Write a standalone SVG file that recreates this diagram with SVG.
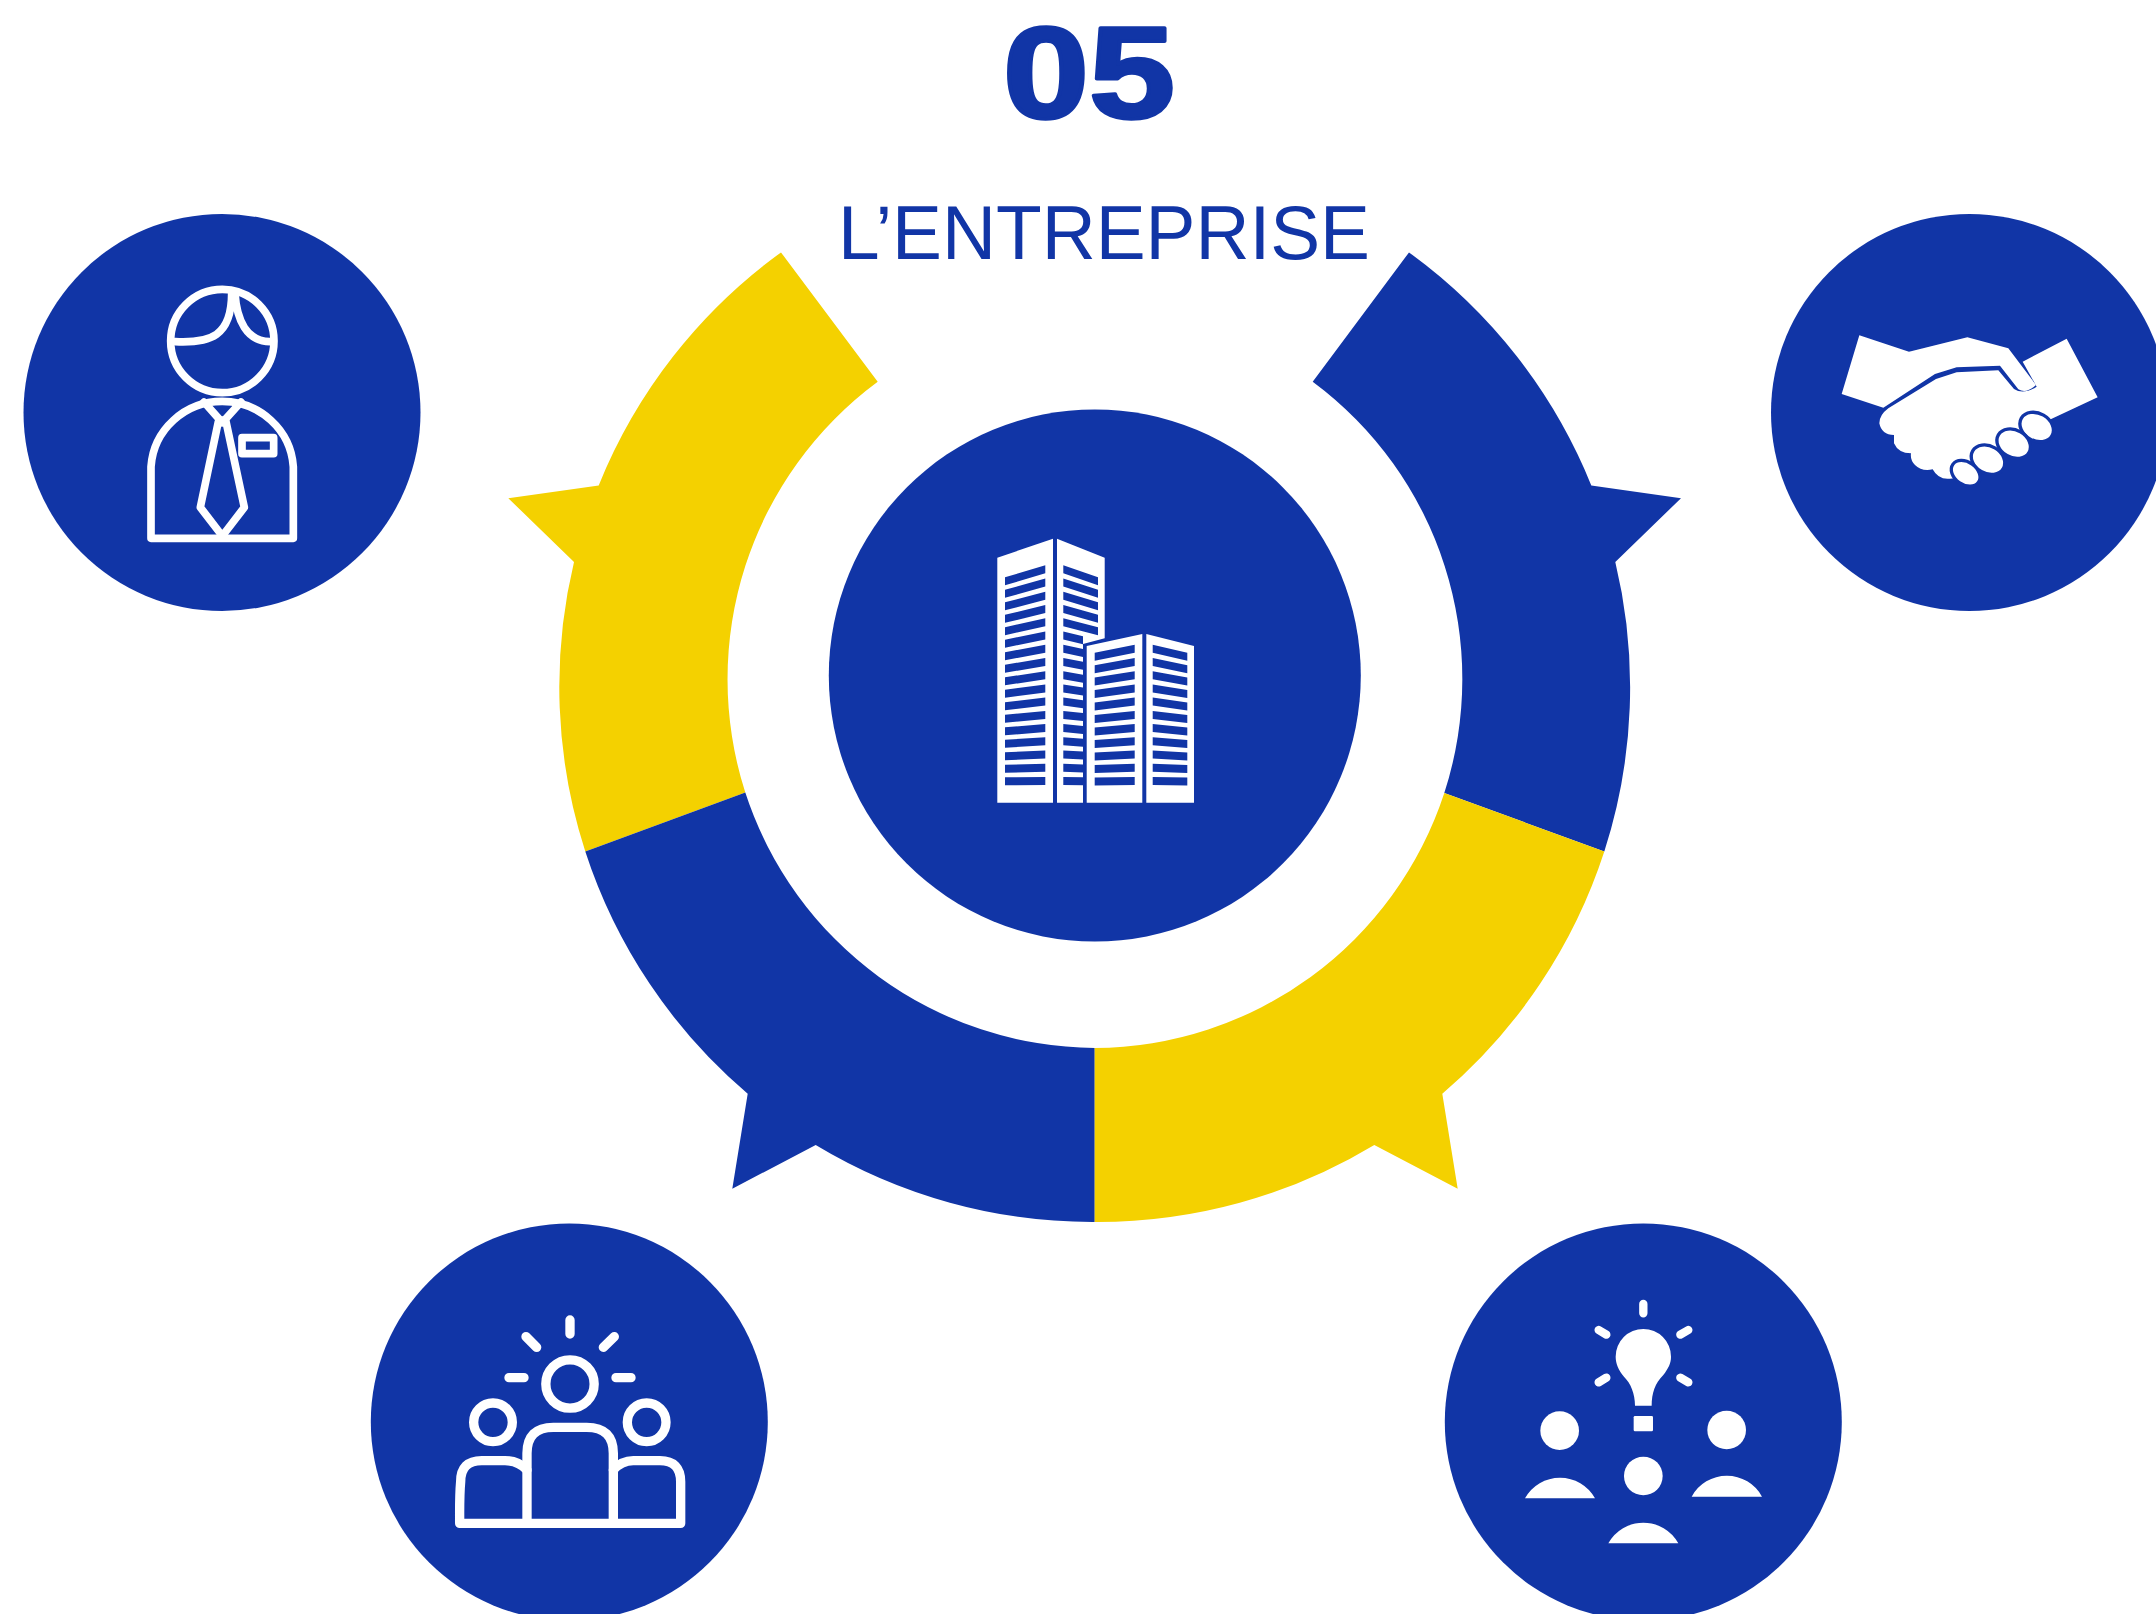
<svg xmlns="http://www.w3.org/2000/svg" width="2156" height="1614" viewBox="0 0 2156 1614">
<style>
.blue{fill:#1135a6}
.yellow{fill:#f4d100}
.w{fill:#fff}
.ln{fill:none;stroke:#fff;stroke-linecap:round;stroke-linejoin:round}
.fg{fill:#fff;stroke:#1135a6;stroke-width:10}
.t{fill:#1135a6;font-family:"Liberation Sans",Arial,sans-serif}
</style>
<rect width="2156" height="1614" fill="#fff"/>
<g id="title">
<text class="t" x="1003" y="118" font-size="130.5" font-weight="700" stroke="#1135a6" stroke-width="3.5" stroke-linejoin="round" textLength="172" lengthAdjust="spacingAndGlyphs">05</text>
<text class="t" x="838" y="259" font-size="76" textLength="532" lengthAdjust="spacingAndGlyphs">L’ENTREPRISE</text>
</g>
<g id="connectors">
<path class="yellow" d="M781 252.4L877.7 381.7A370 370 0 0 0 745.3 792.6L585.3 851.5A535.5 535.5 0 0 1 574 562L508.3 498.2L598.7 485.4A535.5 535.5 0 0 1 781 252.4Z"/>
<path class="blue" d="M1409 252.4L1312.7 381.7A370 370 0 0 1 1444.3 793L1604.3 851.5A535.5 535.5 0 0 0 1615.3 562L1681 498.2L1591.3 485.4A535.5 535.5 0 0 0 1409 252.4Z"/>
<path class="blue" d="M745.3 792.6A370 370 0 0 0 1094.7 1048V1222A535.5 535.5 0 0 1 815.7 1145L732.3 1188.7L747.7 1093.7A535.5 535.5 0 0 1 585.3 851.5Z"/>
<path class="yellow" d="M1444.3 793A370 370 0 0 1 1094.7 1048V1222A535.5 535.5 0 0 0 1374.3 1145L1457.7 1188.7L1442.3 1093.7A535.5 535.5 0 0 0 1604.3 851.5Z"/>
</g>
<g id="node-center">
<circle class="blue" cx="1094.8" cy="675.5" r="266"/>
<path class="w" d="M997.3 557.7L1053 538.7V802.7H997.3Z"/>
<path class="w" d="M1057 538.7L1104.7 557.7V638.3L1083 644V802.7H1057Z"/>
<path class="w" d="M1086.7 646L1142.3 634V802.7H1086.7Z"/>
<path class="w" d="M1146.3 634L1194 646V802.7H1146.3Z"/>
<path class="blue" d="M1005 577.3L1045.3 565.3v8L1005 585.3zM1005 589.8L1045.3 578.5v8L1005 597.8zM1005 602.3L1045.3 591.8v8L1005 610.3zM1005 614.8L1045.3 605v8L1005 622.8zM1005 627.3L1045.3 618.2v8L1005 635.3zM1005 639.8L1045.3 631.5v8L1005 647.8zM1005 652.3L1045.3 644.7v8L1005 660.3zM1005 664.8L1045.3 657.9v8L1005 672.8zM1005 677.3L1045.3 671.2v8L1005 685.3zM1005 689.8L1045.3 684.4v8L1005 697.8zM1005 702.3L1045.3 697.6v8L1005 710.3zM1005 714.8L1045.3 710.9v8L1005 722.8zM1005 727.3L1045.3 724.1v8L1005 735.3zM1005 739.8L1045.3 737.3v8L1005 747.8zM1005 752.3L1045.3 750.5v8L1005 760.3zM1005 764.8L1045.3 763.8v8L1005 772.8zM1005 777.3L1045.3 777v8L1005 785.3z"/>
<path class="blue" d="M1063.3 565.3L1098 577.3v8L1063.3 573.3zM1063.3 578.5L1098 589.8v8L1063.3 586.5zM1063.3 591.8L1098 602.3v8L1063.3 599.8zM1063.3 605L1098 614.8v8L1063.3 613zM1063.3 618.2L1098 627.3v8L1063.3 626.2zM1063.3 631.5L1083 636.2v8L1063.3 639.5zM1063.3 644.7L1083 649v8L1063.3 652.7zM1063.3 657.9L1083 661.8v8L1063.3 665.9zM1063.3 671.2L1083 674.7v8L1063.3 679.2zM1063.3 684.4L1083 687.5v8L1063.3 692.4zM1063.3 697.6L1083 700.3v8L1063.3 705.6zM1063.3 710.9L1083 713.1v8L1063.3 718.9zM1063.3 724.1L1083 725.9v8L1063.3 732.1zM1063.3 737.3L1083 738.7v8L1063.3 745.3zM1063.3 750.5L1083 751.5v8L1063.3 758.5zM1063.3 763.8L1083 764.4v8L1063.3 771.8zM1063.3 777L1083 777.2v8L1063.3 785z"/>
<path class="blue" d="M1094.7 652.7L1134.7 644.7v8L1094.7 660.7zM1094.7 665.2L1134.7 657.9v8L1094.7 673.2zM1094.7 677.6L1134.7 671.2v8L1094.7 685.6zM1094.7 690.1L1134.7 684.4v8L1094.7 698.1zM1094.7 702.6L1134.7 697.6v8L1094.7 710.6zM1094.7 715L1134.7 710.9v8L1094.7 723zM1094.7 727.5L1134.7 724.1v8L1094.7 735.5zM1094.7 740L1134.7 737.3v8L1094.7 748zM1094.7 752.5L1134.7 750.5v8L1094.7 760.5zM1094.7 764.9L1134.7 763.8v8L1094.7 772.9zM1094.7 777.4L1134.7 777v8L1094.7 785.4z"/>
<path class="blue" d="M1152.7 644.7L1187.3 652.7v8L1152.7 652.7zM1152.7 657.9L1187.3 665.2v8L1152.7 665.9zM1152.7 671.2L1187.3 677.6v8L1152.7 679.2zM1152.7 684.4L1187.3 690.1v8L1152.7 692.4zM1152.7 697.6L1187.3 702.6v8L1152.7 705.6zM1152.7 710.9L1187.3 715v8L1152.7 718.9zM1152.7 724.1L1187.3 727.5v8L1152.7 732.1zM1152.7 737.3L1187.3 740v8L1152.7 745.3zM1152.7 750.5L1187.3 752.5v8L1152.7 758.5zM1152.7 763.8L1187.3 764.9v8L1152.7 771.8zM1152.7 777L1187.3 777.4v8L1152.7 785z"/>
</g>
<g id="node-person">
<circle class="blue" cx="222" cy="412.5" r="198.5"/>
<g transform="translate(100 240) scale(.33333)">
<g class="ln" stroke-width="23">
<circle cx="367" cy="303" r="155"/>
<path d="M226 305C330 310 395 290 395 160M405 160C410 240 440 305 510 305"/>
<path d="M153 895V680A214 210 0 0 1 580 680V895Z"/>
<path d="M312 486L367 548L423 486"/>
<path d="M355 545L301 802L367 888L433 802L378 545L367 540Z"/>
<rect x="426" y="593" width="95" height="48"/>
</g>
</g>
</g>
<g id="node-handshake">
<circle class="blue" cx="1969.5" cy="412.5" r="198.5"/>
<g transform="translate(1810 310) scale(.33333)">
<path class="w" d="M148 76L297 125L472 82L595 115L678 225Q650 252 625 238L570 167L440 172L375 192L220 293L95 252Z"/>
<path class="w" d="M770 86L863 262L722 328L700 340L470 500L420 506Q385 510 368 478Q335 485 315 465Q300 450 303 430Q265 430 252 400V375Q215 375 208 340Q208 315 235 295L378 207L440 187L565 181L612 237Q640 255 680 230L638 155Z"/>
<ellipse class="fg" cx="680" cy="351" rx="53" ry="41" transform="rotate(30 680 351)"/>
<ellipse class="fg" cx="611" cy="401" rx="53" ry="41" transform="rotate(30 611 401)"/>
<ellipse class="fg" cx="534" cy="449" rx="53" ry="41" transform="rotate(30 534 449)"/>
<ellipse class="fg" cx="467" cy="490" rx="47" ry="34" transform="rotate(35 467 490)"/>
</g>
</g>
<g id="node-team">
<circle class="blue" cx="569.3" cy="1422" r="198.5"/>
<g transform="translate(430 1290) scale(.33333)">
<g class="ln" stroke-width="28">
<circle cx="420" cy="282" r="72.5"/>
<circle cx="189" cy="397" r="58"/>
<circle cx="650" cy="397" r="58"/>
<path d="M420 90V132M288 140L320 172M553 140L520 172M237 263H282M558 263H603"/>
<path d="M291 700V490Q291 412 370 412H470Q550 412 550 490V700"/>
<path d="M291 540Q265 512 225 512H155Q92 512 92 575C88 620 89 660 89 700H752V575Q752 512 690 512H610Q575 512 550 540"/>
</g>
</g>
</g>
<g id="node-ideas">
<circle class="blue" cx="1643.3" cy="1422" r="198.5"/>
<g transform="translate(1500 1280) scale(.33333)">
<path class="ln" stroke-width="25" d="M430 72V100M296 150L319 164M565 150L541 164M296 307L319 293M565 307L541 293"/>
<path class="w" d="M405 377H455C455 340 465 310 490 285C505 265 513 250 513 230A83 83 0 0 0 347 230C347 250 355 270 372 290C392 310 405 340 405 377Z"/>
<rect class="w" x="401" y="408" width="58" height="46" rx="4"/>
<circle class="w" cx="179" cy="452" r="58"/>
<circle class="w" cx="680" cy="450" r="58"/>
<circle class="w" cx="430" cy="588" r="58"/>
<path class="w" d="M75 655A120 120 0 0 1 285 655ZM575 650A120 120 0 0 1 786 650ZM325 790A120 120 0 0 1 535 790Z"/>
</g>
</g>
</svg>
